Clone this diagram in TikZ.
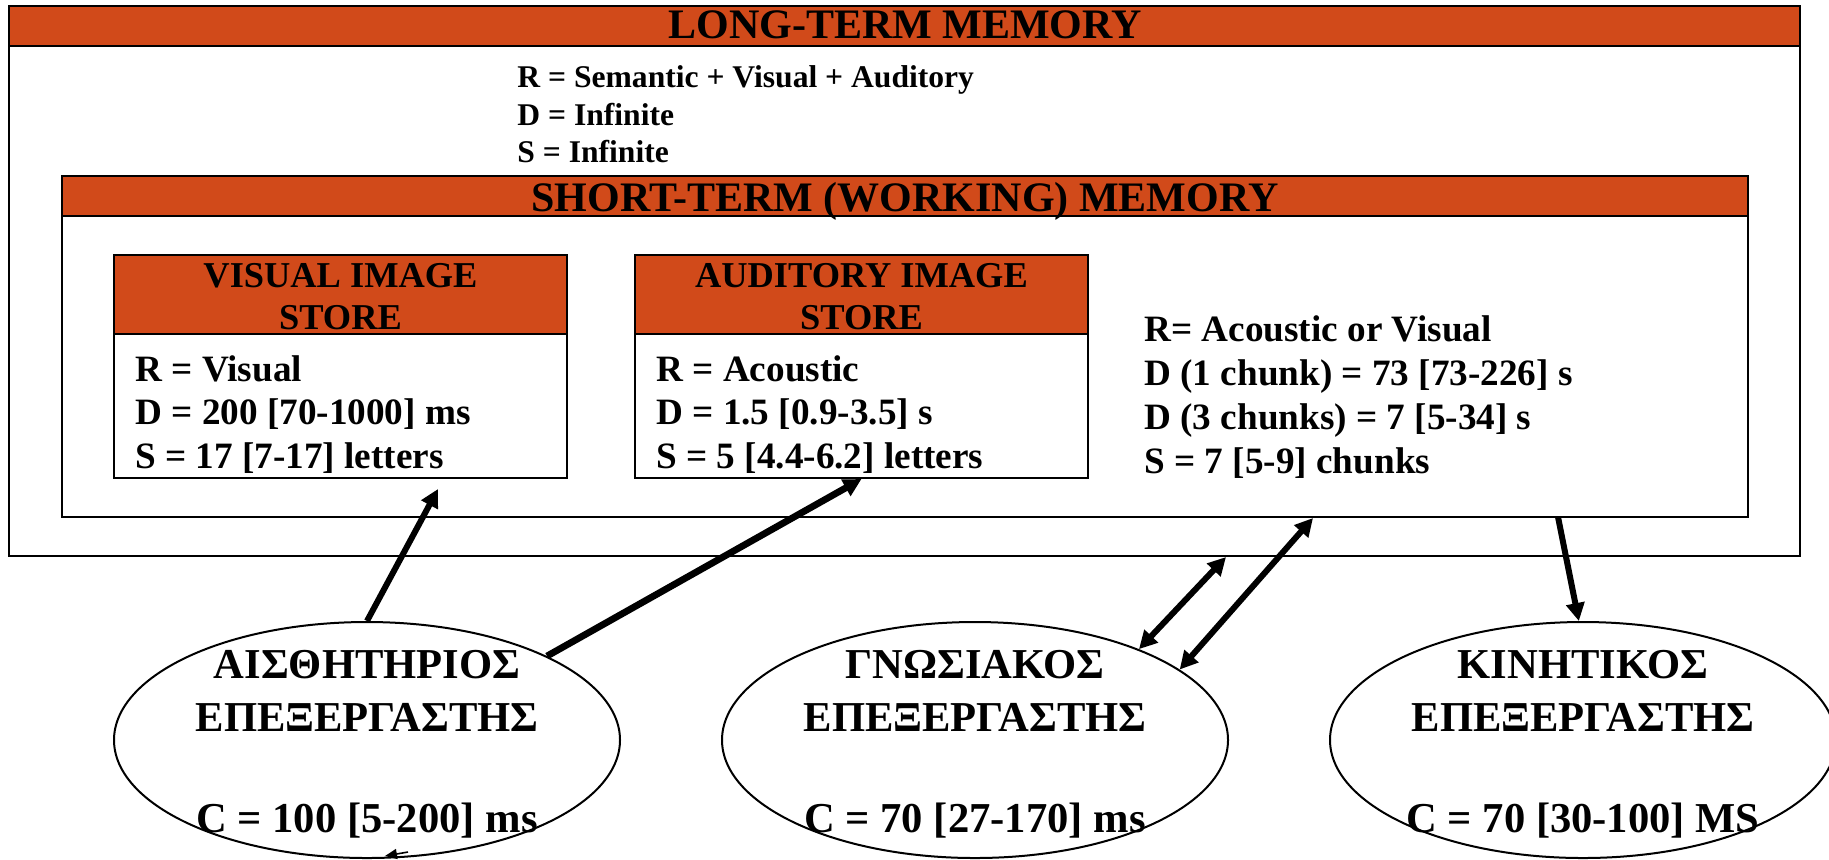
\documentclass[tikz,border=0pt]{standalone}
\usepackage{fontspec}
\setmainfont{Liberation Serif}
\usetikzlibrary{arrows.meta,shapes.geometric}
\definecolor{hdr}{RGB}{209,74,26}
\begin{document}
\begin{tikzpicture}[x=0.5pt,y=-0.5pt,
  frame/.style={draw=black,line width=1pt,fill=white,rectangle,inner sep=0pt},
  bar/.style={draw=black,line width=1.2pt,fill=hdr,rectangle,inner sep=0pt},
  ttl/.style={anchor=base,inner sep=0pt,font=\fontsize{21}{25}\selectfont\bfseries},
  hdrtxt/.style={anchor=base,inner sep=0pt,font=\fontsize{18.2}{22}\selectfont\bfseries},
  bodytxt/.style={anchor=base west,inner sep=0pt,font=\fontsize{18.6}{22}\selectfont\bfseries},
  ltmtxt/.style={anchor=base west,inner sep=0pt,font=\fontsize{15.8}{19}\selectfont\bfseries},
  proc/.style={draw=black,line width=1pt,fill=white,ellipse,inner sep=0pt,minimum width=253pt,minimum height=118pt},
  ptxt/.style={anchor=base,inner sep=0pt,font=\fontsize{21.3}{25}\selectfont\bfseries},
  arr/.style={line width=3pt,-{Triangle[length=9pt,width=9pt]}},
  darr/.style={line width=3pt,{Triangle[length=9pt,width=9pt]}-{Triangle[length=9pt,width=9pt]}}
]
\useasboundingbox (0,0) rectangle (1829,859);
\fill[white] (0,0) rectangle (1829,859);

% Long-term memory
\node[frame,minimum width=895.5pt,minimum height=275pt] (ltm) at (904.5,281) {};
\node[bar,minimum width=895.5pt,minimum height=20pt] (ltmbar) at (904.5,26) {};
\node[ttl] (ltmtitle) at (905,38) {LONG-TERM MEMORY};
\node[ltmtxt] (ltmr) at (517,87) {R = Semantic + Visual + Auditory};
\node[ltmtxt] (ltmd) at (517,125) {D = Infinite};
\node[ltmtxt] (ltms) at (517,162) {S = Infinite};

% Short-term memory
\node[frame,minimum width=843pt,minimum height=170.5pt] (stm) at (905,346.5) {};
\node[bar,minimum width=843pt,minimum height=20pt] (stmbar) at (905,196) {};
\node[ttl] (stmtitle) at (905,211) {SHORT-TERM (WORKING) MEMORY};
\node[bodytxt] (stmr) at (1144,341) {R= Acoustic or Visual};
\node[bodytxt] (stmd1) at (1144,385) {D (1 chunk) = 73 [73-226] s};
\node[bodytxt] (stmd3) at (1144,429) {D (3 chunks) = 7 [5-34] s};
\node[bodytxt] (stms) at (1144,473) {S = 7 [5-9] chunks};

% Visual image store
\node[frame,minimum width=226.5pt,minimum height=111.5pt] (vis) at (340.5,366.5) {};
\node[bar,minimum width=226.5pt,minimum height=39.5pt] (visbar) at (340.5,294.5) {};
\node[hdrtxt] (vish1) at (340.5,287) {VISUAL IMAGE};
\node[hdrtxt] (vish2) at (340.5,329) {STORE};
\node[bodytxt] (visr) at (135,381) {R = Visual};
\node[bodytxt] (visd) at (135,424) {D = 200 [70-1000] ms};
\node[bodytxt] (viss) at (135,468) {S = 17 [7-17] letters};

% Auditory image store
\node[frame,minimum width=226.5pt,minimum height=111.5pt] (aud) at (861.5,366.5) {};
\node[bar,minimum width=226.5pt,minimum height=39.5pt] (audbar) at (861.5,294.5) {};
\node[hdrtxt] (audh1) at (861.5,287) {AUDITORY IMAGE};
\node[hdrtxt] (audh2) at (861.5,329) {STORE};
\node[bodytxt] (audr) at (656,381) {R = Acoustic};
\node[bodytxt] (audd) at (656,424) {D = 1.5 [0.9-3.5] s};
\node[bodytxt] (auds) at (656,468) {S = 5 [4.4-6.2] letters};

% Processors
\node[proc] (e1) at (367,740) {};
\node[proc] (e2) at (975,740) {};
\node[proc] (e3) at (1583,740) {};

\node[ptxt] (e1a) at (367,678) {ΑΙΣΘΗΤΗΡΙΟΣ};
\node[ptxt] (e1b) at (367,731) {ΕΠΕΞΕΡΓΑΣΤΗΣ};
\node[ptxt] (e1c) at (367,832) {C = 100 [5-200] ms};
\node[ptxt] (e2a) at (975,678) {ΓΝΩΣΙΑΚΟΣ};
\node[ptxt] (e2b) at (975,731) {ΕΠΕΞΕΡΓΑΣΤΗΣ};
\node[ptxt] (e2c) at (975,832) {C = 70 [27-170] ms};
\node[ptxt] (e3a) at (1583,678) {ΚΙΝΗΤΙΚΟΣ};
\node[ptxt] (e3b) at (1583,731) {ΕΠΕΞΕΡΓΑΣΤΗΣ};
\node[ptxt] (e3c) at (1583,832) {C = 70 [30-100] MS};

% Connectors
\coordinate (tv) at (438,489);
\coordinate (c3) at (1226,557);
\coordinate (c4) at (1313,518);
\coordinate (c5) at (1558,517);
\coordinate (t6a) at (408,852);
\coordinate (t6b) at (385,856);
\draw[arr] (e1.north) -- (tv);
\draw[arr,line width=3.4pt] (e1.25) -- (aud.south);
\draw[darr] (e2.29) -- (c3);
\draw[darr] (e2.19) -- (c4);
\draw[arr] (c5) -- (e3.92);
\draw[line width=0.8pt,-{Triangle[length=6pt,width=5pt]}] (t6a) -- (t6b);
\end{tikzpicture}
\end{document}
